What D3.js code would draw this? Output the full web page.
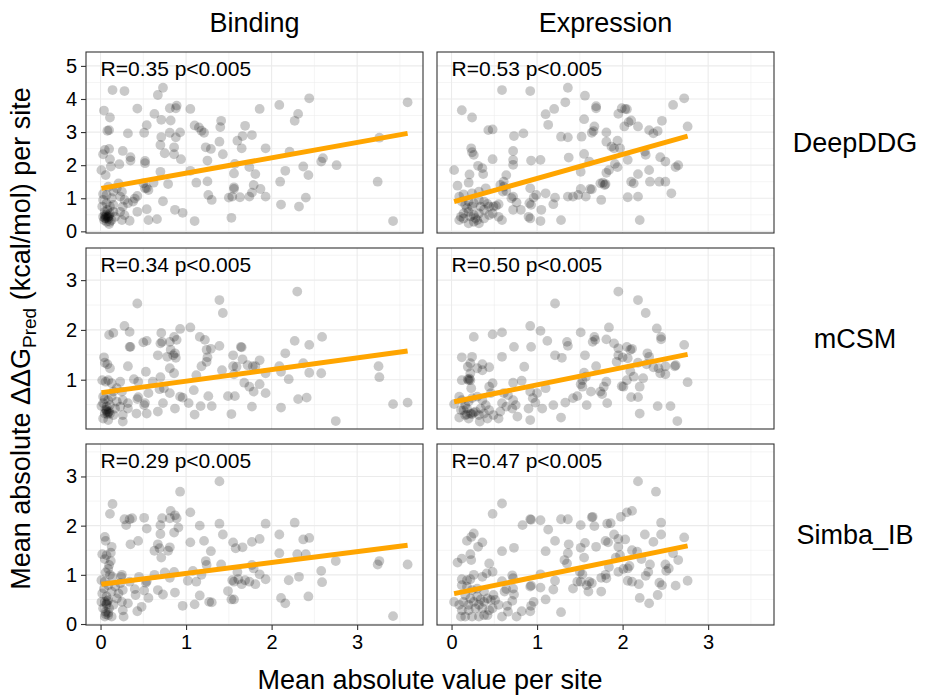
<!DOCTYPE html>
<html>
<head>
<meta charset="utf-8">
<script src="https://cdn.jsdelivr.net/npm/d3@7"></script>
<style>
body { margin: 0; background: #fff; }
text { font-family: "Liberation Sans", Arial, sans-serif; fill: #000; }
</style>
</head>
<body>
<svg id="chart" width="933" height="697"></svg>
<script>
// facet labels
const columns = ["Binding", "Expression"];
const rows = ["DeepDDG", "mCSM", "Simba_IB"];

// correlation text per panel (row, column)
const rLabels = [
  ["R=0.35 p<0.005", "R=0.53 p<0.005"],
  ["R=0.34 p<0.005", "R=0.50 p<0.005"],
  ["R=0.29 p<0.005", "R=0.47 p<0.005"]
];

// linear fit
const fitIntercept = [[1.295, 0.875], [0.738, 0.548], [0.808, 0.608]];
const fitSlope = [[0.464, 0.725], [0.233, 0.348], [0.221, 0.355]];

// axes
const xTicks = [0, 1, 2, 3];
const yTicks = [[0, 1, 2, 3, 4, 5], [1, 2, 3], [0, 1, 2, 3]];
const xDomain = [-0.17, 3.77];
const yDomains = [[-0.05, 5.42], [0.01, 3.645], [-0.02, 3.66]];

// points [mean absolute value per site, mean absolute ddG]
const bindingDeepDDG = [
  [0.14,4.27],[0.28,4.24],[0.67,4.12],[0.73,4.34],[0.04,3.65],[0.11,3.44],[0.43,3.71],[0.63,3.55],[0.71,3.37],[0.81,3.72],
  [0.89,3.80],[0.88,3.72],[0.82,3.35],[1.05,3.70],[1.86,3.70],[2.09,3.82],[2.44,4.02],[2.31,3.55],[2.27,3.34],[3.59,3.90],
  [0.10,3.06],[0.08,3.04],[0.32,2.96],[0.54,3.21],[0.51,2.98],[0.81,2.98],[0.93,2.99],[0.71,2.85],[0.88,2.84],[0.70,2.61],
  [0.86,2.54],[1.10,3.20],[1.15,3.14],[1.18,3.04],[1.21,2.98],[1.41,3.34],[1.40,3.15],[1.69,3.19],[1.66,2.88],[1.60,2.74],
  [1.77,2.91],[1.65,2.51],[1.39,2.71],[1.23,2.54],[1.29,2.49],[1.43,2.33],[1.93,2.51],[2.21,2.41],[2.58,2.11],[2.60,2.21],
  [2.76,2.00],[3.26,2.83],[3.24,1.50],[3.42,0.31],[0.05,2.46],[0.10,2.49],[0.03,2.33],[0.11,2.18],[0.26,2.43],[0.35,2.24],
  [0.35,2.14],[0.52,2.13],[0.52,2.06],[0.22,2.03],[0.12,1.96],[0.01,1.85],[0.06,1.70],[0.75,2.36],[0.86,2.33],[0.94,2.18],
  [0.70,1.80],[1.05,1.83],[1.25,2.14],[1.57,2.04],[1.74,1.94],[1.56,1.75],[1.81,1.73],[2.16,1.83],[2.37,1.96],[2.43,1.70],
  [2.10,1.50],[1.25,1.51],[1.12,1.47],[1.79,1.40],[1.87,1.28],[1.77,1.17],[1.74,1.05],[1.63,1.03],[1.56,1.28],[1.56,1.33],
  [1.50,1.02],[1.54,1.05],[1.26,1.10],[1.30,0.95],[1.93,1.05],[2.40,1.02],[2.32,0.75],[2.11,0.81],[1.53,0.41],[1.10,0.31],
  [0.87,0.65],[0.96,0.56],[0.73,0.91],[0.79,1.43],[0.54,1.31],[0.56,1.25],[0.50,1.45],[0.52,1.30],[0.62,1.47],[0.43,1.07],
  [0.40,0.99],[0.38,0.90],[0.43,0.59],[0.54,0.67],[0.56,0.34],[0.66,0.37],[0.34,0.32],[0.03,1.13],[0.09,1.35],[0.21,1.45],
  [0.19,1.30],[0.15,1.20],[0.25,1.20],[0.23,1.05],[0.28,0.95],[0.32,0.85],[0.26,0.75],[0.23,0.59],[0.28,0.49],[0.25,0.34],
  [0.17,0.44],[0.15,0.59],[0.11,0.75],[0.07,0.85],[0.03,0.95],[0.02,0.75],[0.05,0.59],[0.03,0.44],[0.06,0.39],[0.09,0.44],
  [0.11,0.29],[0.07,0.29],[0.10,0.22],[0.04,0.34],[0.13,0.34],[0.05,0.49],[0.08,0.65],[0.13,1.00],[0.07,1.10],[0.11,0.54],
  [0.15,0.80],[0.08,0.42],[0.06,0.45],[0.09,0.38],[0.07,0.50],[0.10,0.47],[0.05,0.40]
];

const expressionDeepDDG = [
  [0.59,4.27],[0.92,4.24],[1.36,4.34],[1.56,4.10],[1.33,3.90],[1.20,3.70],[1.10,3.54],[1.13,3.22],[0.12,3.66],[0.24,3.44],
  [1.69,3.78],[1.69,3.72],[1.99,3.72],[2.03,3.70],[2.05,3.69],[1.95,3.55],[2.10,3.35],[2.07,3.30],[2.18,3.17],[2.59,3.82],
  [2.72,4.02],[2.46,3.34],[2.76,3.17],[1.55,3.39],[1.67,3.17],[1.64,2.98],[1.66,3.03],[1.81,2.99],[2.02,3.17],[2.31,3.06],
  [2.36,2.96],[2.41,3.03],[0.43,3.06],[0.48,3.08],[0.73,2.88],[0.84,2.96],[1.28,2.86],[1.36,2.84],[1.52,2.86],[0.23,2.51],
  [0.24,2.39],[0.26,2.31],[0.72,2.43],[0.72,2.16],[0.72,2.01],[0.93,2.14],[1.04,2.16],[0.48,2.18],[0.31,1.98],[0.36,1.91],
  [0.37,1.73],[0.03,1.85],[0.21,1.72],[0.20,1.47],[0.07,1.38],[0.64,1.70],[0.61,1.50],[1.37,2.23],[1.55,2.34],[1.51,1.80],
  [1.61,2.11],[1.81,2.71],[1.87,2.56],[1.90,2.51],[1.94,2.74],[1.97,2.51],[1.91,2.04],[1.94,1.94],[2.06,2.16],[1.84,1.85],
  [1.81,1.77],[1.77,1.47],[1.80,1.43],[1.79,1.40],[1.74,1.45],[1.64,1.27],[1.62,1.28],[1.51,1.28],[1.48,1.10],[1.57,1.05],
  [1.42,1.05],[1.75,0.95],[2.10,1.50],[2.13,1.45],[2.18,1.73],[2.06,1.03],[2.18,1.05],[2.20,0.34],[2.26,2.41],[2.27,2.31],
  [2.31,1.85],[2.32,1.50],[2.43,1.50],[2.50,1.50],[2.44,2.24],[2.50,2.11],[2.62,1.94],[2.65,2.00],[2.57,1.15],[1.36,1.05],
  [1.28,0.34],[1.21,1.02],[1.19,0.82],[1.10,1.15],[0.99,1.10],[0.96,1.02],[0.92,1.30],[0.91,0.85],[0.93,0.80],[1.05,0.65],
  [1.04,0.31],[0.92,0.39],[0.90,0.44],[0.81,0.65],[0.72,0.65],[0.76,0.87],[0.72,1.05],[0.64,1.22],[0.61,1.35],[0.57,1.40],
  [0.60,1.20],[0.70,1.00],[0.55,0.82],[0.52,0.77],[0.49,0.75],[0.48,0.54],[0.59,0.34],[0.55,0.44],[0.40,1.30],[0.32,1.20],
  [0.24,1.15],[0.14,1.12],[0.09,1.05],[0.12,0.90],[0.16,0.80],[0.20,0.90],[0.26,0.85],[0.32,0.95],[0.38,0.90],[0.42,0.83],
  [0.44,0.75],[0.38,0.65],[0.32,0.54],[0.26,0.49],[0.20,0.59],[0.14,0.54],[0.11,0.44],[0.09,0.34],[0.14,0.39],[0.20,0.24],
  [0.26,0.29],[0.32,0.24],[0.38,0.39],[0.44,0.49],[0.30,0.34],[0.18,0.70],[0.24,0.75],[0.34,0.75],[0.22,0.45],[0.28,0.40]
];

const bindingMcsm = [
  [0.43,2.53],[1.39,2.60],[1.43,2.34],[2.30,2.77],[0.28,2.08],[0.34,1.96],[0.15,1.94],[0.10,1.90],[0.71,1.94],[0.93,2.02],
  [1.05,2.05],[1.16,1.86],[1.22,1.80],[0.86,1.86],[0.89,1.80],[0.54,1.78],[0.50,1.75],[0.70,1.73],[0.72,1.76],[0.81,1.76],
  [0.35,1.66],[0.34,1.66],[0.82,1.60],[1.24,1.60],[1.29,1.62],[1.39,1.68],[1.64,1.66],[1.65,1.65],[0.87,1.53],[0.85,1.49],
  [0.88,1.44],[0.78,1.46],[0.67,1.49],[1.25,1.45],[1.24,1.36],[1.55,1.49],[1.66,1.41],[2.27,1.78],[2.44,1.70],[2.59,1.86],
  [2.16,1.53],[2.09,1.27],[2.11,1.16],[2.20,1.01],[2.37,1.33],[2.44,1.14],[2.58,1.13],[3.25,1.27],[3.26,1.05],[3.42,0.51],
  [3.59,0.54],[2.75,0.17],[2.41,0.64],[2.31,0.61],[2.11,0.44],[1.86,1.39],[1.81,1.27],[1.78,1.27],[1.72,1.29],[1.93,1.13],
  [1.86,0.91],[1.79,0.76],[1.93,0.73],[1.68,0.94],[1.74,0.86],[1.77,0.46],[1.55,1.27],[1.59,1.26],[1.56,1.11],[1.42,1.19],
  [1.12,1.09],[1.09,0.79],[1.18,1.27],[1.26,0.67],[1.30,0.47],[1.17,0.47],[1.10,0.30],[1.03,0.53],[1.49,0.67],[1.57,0.67],
  [1.53,0.31],[0.87,0.42],[0.93,0.66],[0.96,0.64],[0.81,0.73],[0.73,0.53],[0.81,1.23],[0.86,1.13],[0.61,0.96],[0.70,1.05],
  [0.74,0.83],[0.69,0.81],[0.53,1.16],[0.56,0.73],[0.52,0.53],[0.51,0.49],[0.44,0.65],[0.43,0.61],[0.39,1.01],[0.44,0.96],
  [0.32,1.27],[0.54,0.32],[0.67,0.36],[0.42,0.32],[0.32,0.42],[0.26,0.29],[0.04,1.45],[0.05,1.34],[0.08,1.31],[0.11,1.23],
  [0.02,0.99],[0.06,0.96],[0.09,0.99],[0.13,0.93],[0.23,0.96],[0.19,0.83],[0.25,0.76],[0.15,0.76],[0.03,0.66],[0.05,0.61],
  [0.09,0.59],[0.03,0.53],[0.07,0.46],[0.01,0.47],[0.11,0.49],[0.07,0.39],[0.09,0.34],[0.05,0.32],[0.11,0.32],[0.03,0.22],
  [0.09,0.19],[0.15,0.29],[0.19,0.56],[0.23,0.46],[0.26,0.59],[0.26,0.16],[0.17,0.42],[0.13,0.66],[0.32,0.53],[0.07,0.36],
  [0.08,0.31],[0.06,0.40],[0.10,0.36]
];

const expressionMcsm = [
  [1.95,2.77],[2.18,2.60],[2.27,2.34],[1.21,2.53],[2.40,2.03],[2.45,1.86],[2.45,1.81],[0.92,2.08],[1.04,1.98],[0.59,1.95],
  [0.48,1.91],[0.26,1.86],[1.51,1.95],[1.84,2.05],[1.67,1.86],[1.68,1.80],[1.65,1.76],[1.81,1.81],[1.90,1.73],[1.95,1.63],
  [2.05,1.66],[2.11,1.62],[2.09,1.60],[1.95,1.49],[1.93,1.36],[2.00,1.45],[2.06,1.43],[2.18,1.34],[2.29,1.53],[2.31,1.46],
  [2.28,1.31],[2.72,1.70],[2.76,0.95],[2.50,1.27],[2.61,1.27],[2.62,1.29],[2.42,1.23],[2.44,1.13],[2.50,1.11],[2.36,1.25],
  [2.24,1.03],[2.20,0.86],[2.13,1.06],[2.09,1.17],[2.05,0.99],[1.99,0.87],[2.01,0.86],[2.10,0.65],[2.18,0.65],[2.20,0.32],
  [2.41,0.47],[2.56,0.47],[2.64,0.17],[1.35,1.76],[1.36,1.68],[1.12,1.78],[0.73,1.66],[0.93,1.66],[1.21,1.49],[1.29,1.44],
  [1.56,1.49],[1.69,1.27],[1.55,1.14],[1.57,1.06],[1.53,0.99],[1.51,0.91],[1.53,0.86],[1.81,0.96],[1.78,0.86],[1.74,0.76],
  [1.76,0.71],[1.63,0.76],[1.82,0.53],[1.58,0.49],[1.42,0.63],[1.47,0.67],[1.33,0.54],[1.19,0.49],[1.28,0.24],[1.10,0.83],
  [1.00,0.73],[0.95,0.63],[0.98,0.54],[0.92,0.76],[0.90,0.42],[0.92,0.19],[1.06,0.42],[0.85,1.26],[0.82,0.98],[0.72,0.94],
  [0.59,1.46],[0.48,0.93],[0.44,0.86],[0.46,0.73],[0.61,0.73],[0.66,0.69],[0.72,0.59],[0.75,0.49],[0.71,0.42],[0.77,0.26],
  [0.57,0.36],[0.55,0.22],[0.12,1.45],[0.24,1.46],[0.22,1.33],[0.19,1.26],[0.30,1.23],[0.36,1.31],[0.44,1.25],[0.36,1.19],
  [0.22,1.13],[0.19,1.01],[0.12,0.99],[0.22,0.99],[0.23,0.83],[0.03,0.51],[0.09,0.66],[0.12,0.59],[0.16,0.49],[0.20,0.56],
  [0.24,0.63],[0.30,0.66],[0.36,0.59],[0.40,0.49],[0.34,0.42],[0.28,0.36],[0.22,0.32],[0.16,0.29],[0.11,0.39],[0.09,0.24],
  [0.20,0.22],[0.24,0.31],[0.32,0.29],[0.38,0.32],[0.44,0.39],[0.49,0.29],[0.33,0.16],[0.42,0.22],[0.14,0.39],[0.18,0.42],
  [0.59,0.53],[0.64,0.46],[0.20,0.99],[0.21,1.02],[0.26,0.34],[0.18,0.30]
];

const bindingSimba = [
  [1.39,2.90],[0.93,2.69],[0.14,2.44],[0.11,2.24],[1.05,2.27],[0.82,2.30],[0.87,2.21],[0.89,2.15],[0.70,2.01],[0.72,2.15],
  [0.81,2.15],[0.51,2.16],[0.28,2.13],[0.34,2.13],[0.37,2.15],[0.30,2.01],[0.54,1.94],[0.91,1.96],[0.86,1.86],[0.70,1.83],
  [1.16,2.00],[1.39,2.04],[1.43,1.82],[1.93,2.04],[2.27,2.06],[2.09,1.82],[1.86,1.73],[2.37,1.72],[2.44,1.75],[1.77,1.67],
  [1.55,1.66],[1.66,1.56],[1.58,1.54],[1.05,1.66],[1.21,1.69],[1.29,1.48],[1.24,1.20],[1.23,1.28],[1.41,1.21],[0.44,1.69],
  [0.35,1.62],[0.05,1.77],[0.06,1.69],[0.13,1.57],[0.12,1.45],[0.02,1.42],[0.07,1.40],[0.05,1.32],[0.12,1.28],[0.10,1.20],
  [0.09,1.12],[0.06,1.05],[0.67,1.62],[0.69,1.54],[0.63,1.49],[0.79,1.49],[0.81,1.56],[0.71,1.35],[2.09,1.44],[2.30,1.42],
  [2.40,1.42],[2.75,1.28],[3.24,1.21],[3.26,1.28],[3.59,1.21],[2.58,1.08],[2.59,0.85],[2.43,0.56],[2.32,0.96],[2.20,0.89],
  [2.11,0.53],[2.16,0.42],[1.93,0.91],[1.86,1.01],[1.79,1.13],[1.77,1.20],[1.81,0.81],[1.74,0.86],[1.69,0.89],[1.65,0.81],
  [1.61,0.91],[1.60,1.06],[1.56,0.86],[1.54,0.89],[1.49,0.67],[1.53,0.50],[1.56,0.50],[1.30,0.44],[1.27,0.45],[1.18,1.00],
  [1.12,0.86],[1.08,1.08],[1.02,0.88],[1.16,0.58],[1.10,0.40],[0.96,0.37],[0.87,0.64],[0.86,1.06],[0.75,1.05],[0.81,0.94],
  [0.73,0.60],[0.67,0.69],[0.63,1.00],[0.54,0.87],[0.53,0.84],[0.56,0.53],[0.51,0.68],[0.48,0.35],[0.43,0.26],[0.45,0.96],
  [0.40,0.71],[0.41,0.59],[0.34,0.86],[0.32,0.42],[0.26,0.28],[0.27,0.15],[0.25,1.00],[0.24,0.96],[0.23,0.83],[0.26,0.69],
  [0.21,0.62],[0.19,0.52],[0.25,0.45],[0.17,0.76],[0.13,0.66],[0.01,0.89],[0.05,0.86],[0.09,0.79],[0.04,0.72],[0.02,0.62],
  [0.07,0.56],[0.01,0.45],[0.05,0.45],[0.09,0.49],[0.07,0.39],[0.03,0.32],[0.10,0.32],[0.06,0.25],[0.09,0.18],[0.05,0.15],
  [0.13,0.15],[0.15,0.39],[3.42,0.16],[0.14,0.96],[0.11,1.00],[0.07,0.42],[0.08,0.47],[0.06,0.20],[0.09,0.23]
];

const expressionSimba = [
  [2.18,2.90],[2.39,2.69],[0.59,2.45],[0.48,2.24],[2.05,2.27],[2.11,2.30],[1.98,2.18],[1.64,2.17],[1.65,2.18],[1.67,1.99],
  [1.82,2.04],[1.86,2.05],[0.92,2.13],[0.93,2.12],[1.04,2.11],[0.83,2.01],[1.28,2.13],[1.36,2.13],[1.51,2.01],[1.13,1.92],
  [2.45,2.06],[2.45,1.82],[2.26,1.82],[2.36,1.67],[2.72,1.76],[1.90,1.82],[1.95,1.73],[2.03,1.72],[1.80,1.69],[1.83,1.66],
  [1.69,1.57],[1.56,1.65],[1.51,1.55],[1.37,1.62],[1.21,1.69],[1.10,1.48],[1.55,1.35],[1.35,1.23],[1.32,1.30],[1.36,1.44],
  [1.95,1.57],[1.97,1.40],[1.92,1.35],[2.11,1.50],[2.17,1.47],[2.22,1.32],[2.59,1.44],[2.65,1.30],[2.50,1.21],[2.51,1.08],
  [2.54,1.13],[2.32,1.21],[2.30,1.06],[2.27,0.98],[2.43,0.84],[2.46,0.79],[2.62,0.78],[2.76,0.88],[2.41,0.59],[2.31,0.42],
  [2.20,0.53],[2.19,0.81],[2.11,0.86],[2.06,0.88],[2.01,1.12],[1.95,1.06],[2.06,1.13],[2.08,1.18],[1.84,1.16],[1.80,1.00],
  [1.81,0.93],[1.75,0.94],[1.75,0.66],[1.64,0.83],[1.61,0.86],[1.58,0.79],[1.60,0.66],[1.51,0.86],[1.53,1.01],[1.50,1.06],
  [1.47,0.86],[1.42,0.72],[1.21,0.88],[1.19,0.70],[1.10,0.50],[1.28,0.24],[1.04,1.01],[1.04,0.74],[0.93,0.78],[0.92,0.76],
  [0.96,0.45],[0.93,0.37],[0.92,0.26],[0.82,0.26],[0.73,1.55],[0.59,1.48],[0.36,1.66],[0.31,1.57],[0.26,1.84],[0.23,1.77],
  [0.18,1.69],[0.22,1.42],[0.23,1.30],[0.12,1.33],[0.07,1.25],[0.44,1.23],[0.48,1.06],[0.41,1.03],[0.36,0.96],[0.71,0.99],
  [0.72,0.93],[0.72,0.72],[0.64,0.71],[0.62,0.66],[0.59,0.87],[0.73,0.60],[0.71,0.47],[0.65,0.37],[0.66,0.25],[0.76,0.15],
  [0.59,0.15],[0.55,0.39],[0.51,0.49],[0.48,0.32],[0.42,0.18],[0.38,0.18],[0.32,0.15],[0.24,0.15],[0.16,0.15],[0.11,0.15],
  [0.03,0.45],[0.12,0.91],[0.18,0.89],[0.22,0.91],[0.26,1.00],[0.12,0.79],[0.18,0.76],[0.24,0.69],[0.30,0.72],[0.38,0.66],
  [0.42,0.52],[0.38,0.45],[0.32,0.39],[0.26,0.45],[0.20,0.39],[0.14,0.45],[0.09,0.39],[0.12,0.28],[0.20,0.28],[0.28,0.32],
  [0.36,0.32],[0.44,0.28],[0.46,0.49],[0.16,0.59],[0.30,0.56],[0.49,0.59],[0.22,0.52],[0.34,0.50]
];

const panelData = [
  [bindingDeepDDG, expressionDeepDDG],
  [bindingMcsm, expressionMcsm],
  [bindingSimba, expressionSimba]
];

// layout
const marginLeft = 86, marginTop = 52, pw = 337, ph = 181, hgap = 14, vgap = 15;
const svg = d3.select("#chart");

const x = d3.scaleLinear().domain(xDomain).range([0, pw]);

rows.forEach((rowName, ri) => {
  const y = d3.scaleLinear().domain(yDomains[ri]).range([ph, 0]);
  const py = marginTop + ri * (ph + vgap);

  columns.forEach((colName, ci) => {
    const px = marginLeft + ci * (pw + hgap);
    const g = svg.append("g").attr("transform", `translate(${px},${py})`);

    // grid: majors on integers, minors on halves
    const xGrid = d3.range(Math.ceil(xDomain[0] * 2) / 2, xDomain[1], 0.5);
    const yGrid = d3.range(Math.ceil(yDomains[ri][0] * 2) / 2, yDomains[ri][1], 0.5);
    g.selectAll(".gx").data(xGrid).enter().append("line")
      .attr("x1", d => x(d)).attr("x2", d => x(d))
      .attr("y1", 0).attr("y2", ph)
      .attr("stroke", "#ebebeb")
      .attr("stroke-width", d => Number.isInteger(d) ? 1.1 : 0.55);
    g.selectAll(".gy").data(yGrid).enter().append("line")
      .attr("y1", d => y(d)).attr("y2", d => y(d))
      .attr("x1", 0).attr("x2", pw)
      .attr("stroke", "#ebebeb")
      .attr("stroke-width", d => Number.isInteger(d) ? 1.1 : 0.55);

    // points
    const pts = panelData[ri][ci];
    g.selectAll(".pt").data(pts).enter().append("circle")
      .attr("cx", d => x(d[0]))
      .attr("cy", d => y(d[1]))
      .attr("r", 4.9)
      .attr("fill", "#000")
      .attr("fill-opacity", 0.21);

    // fitted line over data range
    const ext = d3.extent(pts, d => d[0]);
    const b0 = fitIntercept[ri][ci], b1 = fitSlope[ri][ci];
    g.append("line")
      .attr("x1", x(ext[0])).attr("y1", y(b0 + b1 * ext[0]))
      .attr("x2", x(ext[1])).attr("y2", y(b0 + b1 * ext[1]))
      .attr("stroke", "#FFA500")
      .attr("stroke-width", 5);

    // correlation label
    g.append("text")
      .attr("x", x(0))
      .attr("y", 24)
      .attr("font-size", 21)
      .text(rLabels[ri][ci]);

    // border
    g.append("rect")
      .attr("width", pw).attr("height", ph)
      .attr("fill", "none")
      .attr("stroke", "#333")
      .attr("stroke-width", 1.1);

    // y axis on left column
    if (ci === 0) {
      const ya = g.append("g")
        .call(d3.axisLeft(y).tickValues(yTicks[ri]).tickSize(5).tickPadding(4).tickFormat(d3.format("d")));
      ya.select(".domain").remove();
      ya.selectAll(".tick line").attr("stroke", "#333").attr("stroke-width", 1.1);
      ya.selectAll(".tick text").attr("font-size", 20).attr("fill", "#000")
        .attr("font-family", "Liberation Sans, Arial, sans-serif");
    }

    // x axis on bottom row
    if (ri === rows.length - 1) {
      const xa = g.append("g")
        .attr("transform", `translate(0,${ph})`)
        .call(d3.axisBottom(x).tickValues(xTicks).tickSize(5).tickPadding(5).tickFormat(d3.format("d")));
      xa.select(".domain").remove();
      xa.selectAll(".tick line").attr("stroke", "#333").attr("stroke-width", 1.1);
      xa.selectAll(".tick text").attr("font-size", 20).attr("fill", "#000")
        .attr("font-family", "Liberation Sans, Arial, sans-serif");
    }

    // column strip
    if (ri === 0) {
      svg.append("text")
        .attr("x", px + pw / 2)
        .attr("y", py - 20)
        .attr("text-anchor", "middle")
        .attr("font-size", 27)
        .text(colName);
    }
  });

  // row strip
  svg.append("text")
    .attr("x", 855)
    .attr("y", py + ph / 2)
    .attr("dy", "0.35em")
    .attr("text-anchor", "middle")
    .attr("font-size", 27)
    .text(rowName);
});

// axis titles
const plotBottom = marginTop + 3 * ph + 2 * vgap;
svg.append("text")
  .attr("x", marginLeft + pw + hgap / 2)
  .attr("y", 689)
  .attr("text-anchor", "middle")
  .attr("font-size", 27)
  .text("Mean absolute value per site");

const yTitle = svg.append("text")
  .attr("transform", `translate(30,${(marginTop + plotBottom) / 2}) rotate(-90)`)
  .attr("text-anchor", "middle")
  .attr("font-size", 27);
yTitle.append("tspan").text("Mean absolute \u0394\u0394G");
yTitle.append("tspan").attr("font-size", 19).attr("dy", 6).text("Pred");
yTitle.append("tspan").attr("dy", -6).text(" (kcal/mol) per site");
</script>
</body>
</html>
